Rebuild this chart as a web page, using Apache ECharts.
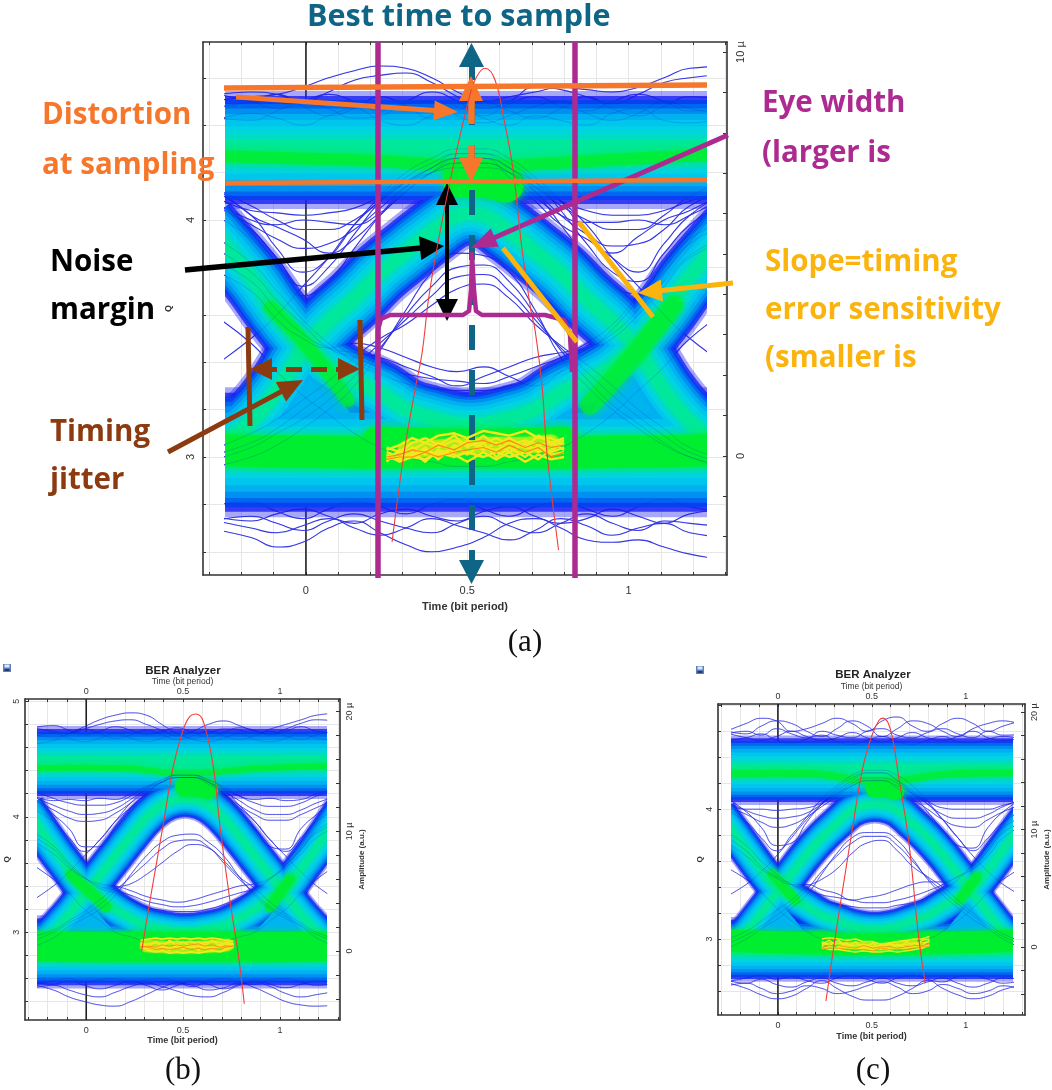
<!DOCTYPE html>
<html><head><meta charset="utf-8">
<script src="https://cdn.jsdelivr.net/npm/echarts@6/dist/echarts.min.js"></script>
<style>html,body{margin:0;padding:0;background:#fff}#c{width:1052px;height:1090px}</style></head>
<body><div id="c"></div>
<script>
// ---------- shared sample instants (bit periods) ----------
const timeGrid=[-0.31,-0.17,-0.09,-0.01,0.07,0.15,0.23,0.31,0.39,0.47,0.55,0.63,0.71,0.79,0.87,0.95,1.03,1.11,1.19,1.33];
const timeTicks=[-0.3,-0.2,-0.1,0,0.1,0.2,0.3,0.4,0.5,0.6,0.7,0.8,0.9,1,1.1,1.2,1.3];
const timeLabels=[0,0.5,1];

// ---------- panel (a) ----------
const aHotTime=[0.25,0.29,0.33,0.37,0.41,0.46,0.50,0.55,0.59,0.63,0.68,0.72,0.76,0.80];
const aQTicks=[2.6,2.8,3,3.2,3.4,3.6,3.8,4,4.2,4.4,4.6];
const aQLabels=[3,4];
const aAmpTicks=[-2,-1,0,1,2,3,4,5,6,7,8,9,10];
const aAmpLabels=[0,10];
const aRailTop=[4.295,4.295,4.295,4.295,4.295,4.295,4.295,4.295,4.295,4.295,4.295,4.295,4.295,4.295,4.295,4.295,4.295,4.295,4.295,4.295];
const aRailBot=[3.02,3.02,3.02,3.02,3.02,3.02,3.02,3.02,3.02,3.02,3.02,3.02,3.02,3.02,3.02,3.02,3.02,3.02,3.02,3.02];
const aSmile=[3.98,3.76,3.61,3.48,3.38,3.32,3.27,3.20,3.165,3.14,3.14,3.165,3.20,3.27,3.32,3.38,3.48,3.61,3.76,3.98];
const aFrown=[3.0,3.15,3.28,3.45,3.57,3.667,3.776,3.865,3.95,4.02,4.02,3.95,3.865,3.776,3.667,3.57,3.45,3.28,3.15,3.0];
const aLobeL=[[-0.2,3.05],[-0.01,3.5],[0.2,3.05]];
const aLobeR=[[0.82,3.05],[1.03,3.5],[1.22,3.05]];
const aUp1=[4.50,4.52,4.53,4.56,4.60,4.63,4.65,4.64,4.60,4.54,4.50,4.52,4.54,4.56,4.55,4.54,4.56,4.60,4.64,4.65];
const aUp2=[4.52,4.54,4.53,4.50,4.54,4.59,4.61,4.62,4.58,4.52,4.47,4.50,4.56,4.55,4.52,4.49,4.53,4.58,4.60,4.62];
const aUp3=[4.54,4.50,4.47,4.50,4.53,4.50,4.46,4.50,4.54,4.50,4.44,4.49,4.52,4.48,4.46,4.50,4.53,4.50,4.46,4.48];
const aUp4=[4.47,4.50,4.53,4.48,4.44,4.47,4.52,4.48,4.43,4.46,4.50,4.46,4.43,4.47,4.52,4.47,4.44,4.48,4.52,4.50];
const aUp5=[4.44,4.42,4.46,4.50,4.47,4.43,4.44,4.49,4.50,4.44,4.41,4.44,4.48,4.50,4.45,4.42,4.45,4.50,4.47,4.44];
const aUp6=[4.40,4.45,4.43,4.40,4.44,4.47,4.42,4.40,4.44,4.47,4.43,4.40,4.44,4.42,4.40,4.45,4.47,4.42,4.41,4.45];
const aDn1=[2.70,2.66,2.62,2.64,2.70,2.73,2.68,2.63,2.60,2.62,2.66,2.72,2.74,2.70,2.65,2.64,2.65,2.62,2.59,2.56];
const aDn2=[2.74,2.70,2.68,2.71,2.74,2.70,2.67,2.70,2.74,2.71,2.68,2.65,2.69,2.74,2.71,2.67,2.70,2.72,2.68,2.66];
const aDn3=[2.72,2.75,2.72,2.69,2.73,2.76,2.73,2.70,2.68,2.72,2.75,2.71,2.68,2.72,2.76,2.72,2.69,2.73,2.72,2.70];
const aDn4=[2.76,2.73,2.76,2.78,2.75,2.72,2.76,2.78,2.75,2.73,2.77,2.79,2.75,2.72,2.74,2.78,2.75,2.72,2.76,2.78];
const aDn5=[2.79,2.81,2.77,2.74,2.78,2.81,2.79,2.76,2.80,2.82,2.78,2.75,2.79,2.81,2.78,2.75,2.79,2.82,2.79,2.76];
const aFr1=[2.95,3.0,3.05,3.12,3.2,3.3,3.45,3.62,3.78,3.86,3.85,3.78,3.62,3.42,3.3,3.2,3.12,3.05,3.0,2.95];
const aFr2=[2.98,3.04,3.1,3.16,3.24,3.34,3.46,3.6,3.72,3.80,3.81,3.74,3.6,3.45,3.33,3.22,3.14,3.06,3.0,2.94];
const aFr3=[3.0,3.06,3.12,3.2,3.28,3.38,3.48,3.58,3.68,3.76,3.77,3.70,3.58,3.46,3.36,3.26,3.17,3.09,3.02,2.96];
const aFr4=[3.02,3.1,3.16,3.24,3.32,3.42,3.5,3.56,3.64,3.71,3.73,3.67,3.56,3.47,3.39,3.3,3.2,3.12,3.04,2.98];
const aSm1=[3.95,3.82,3.7,3.58,3.48,3.4,3.35,3.31,3.29,3.28,3.28,3.3,3.33,3.38,3.44,3.54,3.66,3.78,3.9,4.0];
const aSm2=[3.9,3.78,3.66,3.56,3.46,3.42,3.38,3.35,3.33,3.32,3.31,3.34,3.38,3.42,3.48,3.56,3.68,3.8,3.92,4.02];
const aSm3=[3.85,3.74,3.62,3.52,3.46,3.44,3.42,3.38,3.34,3.3,3.34,3.38,3.42,3.44,3.46,3.52,3.62,3.74,3.85,3.95];
const aSm4=[3.8,3.7,3.58,3.5,3.46,3.48,3.46,3.42,3.38,3.36,3.38,3.34,3.3,3.36,3.44,3.5,3.6,3.72,3.84,3.92];
const aTr1=[4.15,4.06,4.0,3.96,3.96,4.0,4.08,4.16,4.22,4.26,4.26,4.22,4.14,4.06,4.0,3.96,3.96,4.02,4.1,4.18];
const aTr2=[4.08,3.98,3.92,3.88,3.9,3.96,4.05,4.14,4.2,4.24,4.24,4.2,4.12,4.02,3.94,3.89,3.9,3.96,4.06,4.14];
const aTr3=[4.18,4.02,3.97,3.92,3.86,3.92,4.02,4.12,4.2,4.26,4.26,4.18,4.08,3.98,3.92,3.86,3.93,4.0,4.04,4.14];
const aTr4=[4.12,4.04,4.03,4.02,4.03,4.05,4.1,4.16,4.2,4.22,4.22,4.2,4.14,4.08,4.04,4.02,4.02,4.04,4.08,4.14];
const aTr5=[4.1,4.0,3.98,4.0,3.99,3.98,4.03,4.12,4.2,4.24,4.24,4.2,4.1,4.02,3.99,3.99,4.0,3.98,4.02,4.12];
const aV1=[4.04,3.92,3.8,3.68,3.74,3.88,4.02,4.14,4.22,4.26,4.26,4.22,4.12,3.98,3.84,3.72,3.69,3.82,3.94,4.06];
const aV2=[4.1,3.96,3.84,3.72,3.8,3.94,4.08,4.18,4.24,4.28,4.28,4.24,4.16,4.04,3.9,3.78,3.74,3.86,3.98,4.1];
const aV3=[4.14,4.02,3.88,3.78,3.84,3.98,4.1,4.2,4.26,4.3,4.3,4.26,4.18,4.08,3.94,3.84,3.78,3.9,4.02,4.14];
const aX1=[3.62,3.48,3.36,3.26,3.18,3.1,3.04,3.0,2.98,2.96,2.96,2.98,3.0,3.04,3.1,3.18,3.28,3.38,3.5,3.64];
const aX2=[3.36,3.5,3.6,3.72,3.84,3.98,4.08,4.16,4.22,4.28,4.28,4.22,4.16,4.08,3.98,3.84,3.72,3.6,3.5,3.36];
const aGreenTop=[[-0.3,4.27],[0.2,4.25],[0.44,4.23],[0.62,4.23],[0.9,4.25],[1.3,4.28]];
const aGreenBot=[[-0.3,3.03],[0.1,3.02],[0.5,3.02],[0.9,3.02],[1.3,3.03]];
const aGreenMid=[[0.22,3.07],[0.5,3.06],[0.8,3.07]];
const aGreenBlob=[[0.48,4.17],[0.55,4.17],[0.62,4.15]];
const aGreenFall=[[-0.11,3.63],[-0.01,3.49],[0.13,3.24]];
const aGreenRise=[[0.88,3.22],[1.0,3.4],[1.14,3.64]];
const aYellowBed=[[0.31,3.03],[0.42,3.04],[0.55,3.05],[0.68,3.05],[0.76,3.06]];
const aHot1=[3.03,3.05,3.08,3.06,3.09,3.10,3.08,3.11,3.10,3.09,3.11,3.08,3.08,3.05];
const aHot2=[3.00,3.02,3.03,3.06,3.04,3.07,3.05,3.06,3.08,3.05,3.07,3.05,3.06,3.03];
const aHot3=[2.99,3.00,3.01,3.03,3.01,3.04,3.06,3.04,3.03,3.06,3.04,3.03,3.02,3.04];
const aHot4=[3.01,2.98,3.0,2.99,3.02,3.00,3.02,3.00,3.02,3.0,3.02,2.99,3.03,3.06];
const aHot5=[3.02,3.0,3.04,3.01,3.06,3.02,3.07,3.03,3.06,3.02,3.06,3.02,3.05,3.07];
const aHot6=[2.98,3.03,3.0,3.04,2.99,3.05,3.01,3.06,3.0,3.04,3.0,3.05,3.01,3.02];
const aHot7=[3.04,3.02,3.06,3.08,3.05,3.09,3.04,3.09,3.05,3.08,3.04,3.09,3.06,3.08];
const aHot8=[3.0,2.99,3.02,2.98,3.03,3.01,2.98,3.02,2.99,3.02,2.98,3.01,2.99,3.0];
const aOrange1=[3.0,3.01,3.03,3.02,3.05,3.03,3.06,3.07,3.05,3.07,3.04,3.06,3.04,3.05];
const aOrange2=[2.99,3.0,3.0,3.02,3.0,3.02,3.03,3.04,3.02,3.05,3.02,3.04,3.0,3.02];
const aRedT=[0.267,0.304,0.338,0.36,0.381,0.415,0.454,0.504,0.527,0.555,0.586,0.614,0.642,0.67,0.697,0.71,0.732,0.747,0.783];
const aRedA=[-2.13,0.07,1.63,2.55,3.94,5.52,7.08,8.81,9.36,9.6,9.31,8.32,7.08,5.1,3.61,3.12,1.71,0.07,-2.33];

// ---------- panel (b) ----------
const bHotTime=[0.28,0.32,0.36,0.39,0.43,0.47,0.50,0.54,0.58,0.61,0.65,0.69,0.72,0.76];
const bQTicks=[2.4,2.6,2.8,3,3.2,3.4,3.6,3.8,4,4.2,4.4,4.6,4.8,5];
const bQLabels=[3,4,5];
const bAmpTicks=[-4,-2,0,2,4,6,8,10,12,14,16,18,20];
const bAmpLabels=[0,10,20];
const bRailTop=[4.47,4.47,4.47,4.47,4.47,4.47,4.47,4.47,4.47,4.47,4.47,4.47,4.47,4.47,4.47,4.47,4.47,4.47,4.47,4.47];
const bRailBot=[2.83,2.83,2.83,2.83,2.83,2.83,2.83,2.83,2.83,2.83,2.83,2.83,2.83,2.83,2.83,2.83,2.83,2.83,2.83,2.83];
const bSmile=[4.08,3.73,3.55,3.37,3.30,3.20,3.12,3.06,3.03,3.01,3.01,3.03,3.06,3.12,3.20,3.30,3.37,3.55,3.73,4.08];
const bFrown=[2.72,3.0,3.15,3.32,3.49,3.66,3.83,3.99,4.10,4.15,4.15,4.10,3.99,3.83,3.66,3.49,3.32,3.15,3.0,2.72];
const bLobeL=[[-0.2,2.9],[-0.01,3.3],[0.2,2.9]];
const bLobeR=[[0.82,2.9],[1.03,3.3],[1.22,2.9]];
const bUp1=[4.62,4.66,4.72,4.78,4.84,4.88,4.90,4.88,4.80,4.72,4.68,4.72,4.76,4.75,4.72,4.76,4.80,4.84,4.88,4.90];
const bUp2=[4.78,4.74,4.72,4.76,4.80,4.83,4.84,4.80,4.75,4.70,4.74,4.80,4.83,4.79,4.74,4.72,4.76,4.81,4.84,4.82];
const bUp3=[4.76,4.79,4.75,4.71,4.74,4.78,4.75,4.71,4.74,4.77,4.73,4.69,4.73,4.77,4.75,4.71,4.74,4.78,4.74,4.72];
const bUp4=[4.72,4.69,4.72,4.76,4.72,4.68,4.71,4.75,4.71,4.67,4.70,4.74,4.70,4.67,4.70,4.74,4.70,4.67,4.71,4.76];
const bUp5=[4.68,4.72,4.68,4.65,4.68,4.72,4.68,4.65,4.68,4.71,4.67,4.65,4.68,4.72,4.67,4.65,4.68,4.72,4.68,4.66];
const bDn1=[2.56,2.50,2.44,2.40,2.37,2.36,2.40,2.46,2.52,2.56,2.54,2.50,2.52,2.56,2.52,2.46,2.40,2.37,2.36,2.38];
const bDn2=[2.50,2.54,2.50,2.46,2.44,2.48,2.53,2.56,2.53,2.49,2.45,2.44,2.48,2.54,2.57,2.53,2.47,2.44,2.46,2.50];
const bDn3=[2.58,2.55,2.58,2.54,2.51,2.54,2.58,2.54,2.50,2.54,2.58,2.55,2.51,2.55,2.59,2.55,2.52,2.55,2.58,2.55];
const bDn4=[2.54,2.58,2.60,2.57,2.59,2.60,2.56,2.59,2.60,2.57,2.53,2.58,2.60,2.57,2.55,2.59,2.60,2.57,2.54,2.58];
const bFr1=[2.85,2.95,3.05,3.12,3.2,3.32,3.5,3.66,3.78,3.84,3.85,3.78,3.66,3.48,3.32,3.2,3.12,3.05,2.95,2.85];
const bFr2=[2.9,3.0,3.08,3.15,3.24,3.36,3.48,3.6,3.72,3.79,3.80,3.74,3.6,3.46,3.34,3.22,3.14,3.06,2.98,2.9];
const bFr3=[2.95,3.02,3.1,3.18,3.28,3.38,3.42,3.5,3.6,3.7,3.76,3.73,3.62,3.48,3.38,3.26,3.16,3.08,3.0,2.92];
const bSm1=[3.9,3.75,3.6,3.48,3.38,3.34,3.28,3.22,3.19,3.18,3.18,3.2,3.24,3.3,3.36,3.46,3.58,3.72,3.88,4.0];
const bSm2=[3.86,3.72,3.58,3.47,3.4,3.36,3.32,3.27,3.24,3.22,3.23,3.26,3.3,3.34,3.38,3.47,3.58,3.72,3.86,3.96];
const bSm3=[3.82,3.68,3.56,3.47,3.42,3.4,3.36,3.31,3.28,3.26,3.28,3.32,3.36,3.4,3.42,3.47,3.56,3.68,3.82,3.94];
const bTr1=[4.25,4.16,4.12,4.1,4.1,4.12,4.18,4.26,4.32,4.36,4.36,4.32,4.26,4.18,4.12,4.09,4.09,4.12,4.18,4.26];
const bTr2=[4.2,4.1,4.05,4.02,4.03,4.07,4.15,4.24,4.3,4.34,4.34,4.3,4.22,4.14,4.06,4.02,4.02,4.06,4.12,4.2];
const bTr3=[4.18,4.06,3.99,3.96,3.97,4.03,4.12,4.22,4.3,4.34,4.34,4.28,4.2,4.1,4.02,3.97,3.97,4.02,4.08,4.18];
const bTr4=[4.22,4.14,4.15,4.14,4.16,4.15,4.2,4.26,4.3,4.34,4.34,4.3,4.24,4.18,4.15,4.16,4.14,4.15,4.2,4.26];
const bV1=[4.22,4.02,3.9,3.74,3.74,3.92,4.08,4.2,4.3,4.34,4.34,4.3,4.2,4.05,3.9,3.74,3.72,3.9,4.02,4.2];
const bV2=[4.1,3.96,3.82,3.7,3.8,3.96,4.12,4.24,4.32,4.36,4.36,4.32,4.24,4.1,3.96,3.8,3.7,3.82,3.96,4.1];
const bX1=[3.62,3.46,3.34,3.2,3.1,3.0,2.96,2.92,2.9,2.88,2.88,2.9,2.92,2.96,3.0,3.1,3.2,3.34,3.46,3.62];
const bX2=[3.24,3.4,3.52,3.66,3.8,3.96,4.08,4.2,4.3,4.36,4.36,4.3,4.2,4.08,3.96,3.8,3.66,3.52,3.4,3.24];
const bGreenTop=[[-0.3,4.42],[0.2,4.42],[0.44,4.38],[0.62,4.38],[0.9,4.42],[1.3,4.44]];
const bGreenBot=[[-0.3,2.88],[0.1,2.87],[0.5,2.87],[0.9,2.87],[1.3,2.88]];
const bGreenMid=[[0.25,2.92],[0.5,2.9],[0.78,2.92]];
const bGreenBlob=[[0.51,4.26],[0.57,4.26],[0.63,4.24]];
const bGreenFall=[[-0.08,3.5],[0.0,3.38],[0.1,3.22]];
const bGreenRise=[[0.95,3.22],[1.0,3.34],[1.05,3.46]];
const bYellowBed=[[0.31,2.88],[0.42,2.87],[0.55,2.87],[0.68,2.88],[0.73,2.89]];
const bHot1=[2.93,2.94,2.95,2.94,2.95,2.94,2.95,2.94,2.95,2.94,2.95,2.94,2.93,2.92];
const bHot2=[2.89,2.90,2.91,2.90,2.91,2.92,2.91,2.92,2.90,2.91,2.92,2.91,2.90,2.88];
const bHot3=[2.87,2.86,2.87,2.88,2.86,2.87,2.88,2.87,2.88,2.86,2.87,2.88,2.86,2.87];
const bHot4=[2.88,2.84,2.83,2.84,2.82,2.83,2.82,2.83,2.82,2.83,2.84,2.83,2.85,2.88];
const bHot5=[2.91,2.88,2.92,2.87,2.93,2.88,2.92,2.87,2.92,2.88,2.93,2.88,2.91,2.9];
const bHot6=[2.9,2.86,2.85,2.89,2.84,2.9,2.85,2.89,2.84,2.89,2.85,2.89,2.87,2.9];
const bOrange1=[2.87,2.88,2.87,2.89,2.88,2.89,2.88,2.89,2.9,2.88,2.89,2.87,2.88,2.88];
const bOrange2=[2.88,2.87,2.85,2.86,2.85,2.86,2.87,2.85,2.86,2.85,2.86,2.85,2.87,2.88];
const bRedT=[0.286,0.329,0.398,0.449,0.501,0.535,0.566,0.604,0.656,0.69,0.742,0.785,0.816];
const bRedA=[0,4.2,10.6,15.4,18.5,19.6,19.8,19.2,15.4,10.5,4.2,-0.3,-4.4];

// ---------- panel (c) ----------
const cHotTime=[0.23,0.27,0.32,0.36,0.41,0.45,0.50,0.54,0.59,0.63,0.68,0.72,0.76,0.80];
const cQTicks=[2.6,2.8,3,3.2,3.4,3.6,3.8,4,4.2,4.4,4.6,4.8];
const cQLabels=[3,4];
const cAmpTicks=[-4,-2,0,2,4,6,8,10,12,14,16,18,20];
const cAmpLabels=[0,10,20];
const cRailTop=[4.30,4.30,4.30,4.30,4.30,4.30,4.30,4.30,4.30,4.30,4.30,4.30,4.30,4.30,4.30,4.30,4.30,4.30,4.30,4.30];
const cRailBot=[2.92,2.92,2.92,2.92,2.92,2.92,2.92,2.92,2.92,2.92,2.92,2.92,2.92,2.92,2.92,2.92,2.92,2.92,2.92,2.92];
const cSmile=[3.97,3.69,3.53,3.39,3.32,3.25,3.18,3.14,3.10,3.08,3.08,3.10,3.14,3.18,3.25,3.32,3.39,3.53,3.69,3.97];
const cFrown=[2.80,3.05,3.2,3.35,3.5,3.65,3.78,3.89,3.99,4.03,4.03,3.99,3.89,3.78,3.65,3.5,3.35,3.2,3.05,2.80];
const cLobeL=[[-0.2,2.95],[-0.01,3.32],[0.2,2.95]];
const cLobeR=[[0.82,2.95],[1.03,3.32],[1.22,2.95]];
const cUp1=[4.58,4.66,4.70,4.68,4.60,4.62,4.66,4.70,4.66,4.60,4.68,4.71,4.64,4.60,4.66,4.70,4.66,4.60,4.64,4.70];
const cUp2=[4.62,4.58,4.64,4.68,4.66,4.60,4.56,4.62,4.68,4.64,4.56,4.62,4.68,4.66,4.60,4.56,4.62,4.66,4.68,4.62];
const cUp3=[4.56,4.60,4.57,4.62,4.58,4.55,4.60,4.57,4.55,4.60,4.62,4.57,4.55,4.59,4.62,4.58,4.55,4.60,4.57,4.58];
const cUp4=[4.60,4.55,4.53,4.56,4.60,4.56,4.53,4.55,4.59,4.55,4.52,4.55,4.59,4.55,4.53,4.56,4.60,4.55,4.53,4.56];
const cUp5=[4.52,4.55,4.58,4.53,4.51,4.54,4.57,4.52,4.50,4.53,4.56,4.52,4.50,4.53,4.56,4.52,4.51,4.54,4.56,4.52];
const cDn1=[2.68,2.62,2.57,2.54,2.56,2.62,2.68,2.62,2.56,2.53,2.53,2.56,2.62,2.68,2.62,2.57,2.54,2.56,2.61,2.66];
const cDn2=[2.62,2.66,2.62,2.58,2.60,2.64,2.62,2.58,2.60,2.64,2.67,2.63,2.58,2.60,2.65,2.62,2.58,2.60,2.64,2.58];
const cDn3=[2.70,2.66,2.69,2.65,2.63,2.67,2.70,2.66,2.64,2.67,2.70,2.66,2.64,2.67,2.70,2.66,2.63,2.66,2.70,2.68];
const cDn4=[2.66,2.70,2.72,2.69,2.71,2.68,2.66,2.70,2.72,2.69,2.66,2.70,2.72,2.69,2.67,2.71,2.72,2.69,2.66,2.70];
const cFr1=[2.9,3.0,3.08,3.15,3.24,3.34,3.5,3.66,3.78,3.82,3.82,3.76,3.62,3.46,3.34,3.24,3.15,3.08,3.0,2.9];
const cFr2=[2.94,3.03,3.1,3.18,3.27,3.38,3.52,3.64,3.74,3.79,3.79,3.72,3.6,3.47,3.37,3.27,3.18,3.1,3.02,2.94];
const cFr3=[2.98,3.06,3.14,3.22,3.3,3.4,3.46,3.54,3.66,3.74,3.76,3.68,3.56,3.48,3.4,3.3,3.2,3.12,3.04,2.96];
const cSm1=[3.86,3.72,3.6,3.5,3.42,3.36,3.3,3.27,3.25,3.24,3.24,3.26,3.28,3.32,3.38,3.46,3.58,3.72,3.86,3.96];
const cSm2=[3.82,3.68,3.56,3.48,3.42,3.38,3.34,3.32,3.3,3.28,3.28,3.3,3.33,3.37,3.42,3.48,3.56,3.68,3.82,3.92];
const cSm3=[3.78,3.64,3.54,3.47,3.42,3.42,3.38,3.35,3.3,3.32,3.34,3.38,3.42,3.44,3.44,3.48,3.54,3.64,3.78,3.9];
const cTr1=[4.08,3.99,3.95,3.93,3.94,3.97,4.04,4.12,4.2,4.24,4.24,4.2,4.12,4.04,3.96,3.93,3.93,3.96,4.02,4.1];
const cTr2=[4.04,3.96,3.9,3.86,3.88,3.94,4.02,4.1,4.18,4.22,4.22,4.16,4.08,4.0,3.92,3.87,3.86,3.92,3.98,4.06];
const cTr3=[4.06,4.0,4.0,3.99,4.0,4.01,4.05,4.12,4.18,4.22,4.22,4.18,4.12,4.06,4.01,4.0,4.0,4.0,4.03,4.08];
const cV1=[4.12,3.98,3.86,3.72,3.74,3.9,4.04,4.16,4.24,4.28,4.28,4.22,4.12,3.98,3.84,3.72,3.7,3.86,3.98,4.12];
const cV2=[4.02,3.9,3.78,3.68,3.8,3.94,4.08,4.18,4.26,4.3,4.3,4.26,4.18,4.06,3.92,3.78,3.68,3.78,3.9,4.02];
const cX1=[3.58,3.46,3.36,3.24,3.14,3.06,3.0,2.98,2.96,2.94,2.94,2.96,2.98,3.0,3.06,3.14,3.24,3.36,3.46,3.58];
const cX2=[3.3,3.42,3.52,3.64,3.78,3.92,4.04,4.14,4.22,4.28,4.28,4.22,4.14,4.04,3.92,3.78,3.64,3.52,3.42,3.3];
const cGreenTop=[[-0.3,4.27],[0.2,4.27],[0.44,4.22],[0.62,4.22],[0.9,4.27],[1.3,4.28]];
const cGreenBot=[[-0.3,2.99],[0.1,2.97],[0.5,2.96],[0.9,2.97],[1.3,2.99]];
const cGreenMid=[[0.2,3.0],[0.5,2.98],[0.82,3.0]];
const cGreenBlob=[[0.51,4.16],[0.56,4.16],[0.62,4.14]];
const cGreenFall=[[-0.03,3.5],[0.03,3.4],[0.09,3.3]];
const cGreenRise=[[0.96,3.3],[1.0,3.38],[1.05,3.48]];
const cYellowBed=[[0.33,2.95],[0.42,2.95],[0.55,2.94],[0.66,2.96],[0.72,2.97]];
const cHot1=[3.0,3.01,3.0,2.99,3.0,2.98,2.98,2.96,2.97,2.98,2.99,3.0,3.0,3.02];
const cHot2=[2.95,2.97,2.97,2.96,2.95,2.96,2.94,2.95,2.96,2.95,2.96,2.97,2.97,2.98];
const cHot3=[2.93,2.94,2.93,2.94,2.92,2.93,2.92,2.93,2.93,2.92,2.93,2.94,2.94,2.96];
const cHot4=[2.94,2.92,2.92,2.91,2.90,2.91,2.90,2.90,2.91,2.9,2.91,2.92,2.93,2.95];
const cHot5=[2.98,2.95,2.99,2.94,2.98,2.93,2.97,2.92,2.97,2.93,2.98,2.94,2.99,3.0];
const cHot6=[2.96,2.99,2.94,2.97,2.92,2.95,2.91,2.94,2.92,2.96,2.93,2.97,2.95,2.99];
const cOrange1=[2.93,2.95,2.95,2.94,2.93,2.95,2.93,2.94,2.94,2.93,2.94,2.95,2.95,2.96];
const cOrange2=[2.92,2.93,2.93,2.92,2.92,2.92,2.91,2.93,2.92,2.92,2.92,2.93,2.94,2.94];
const cRedT=[0.256,0.291,0.335,0.397,0.451,0.5,0.538,0.559,0.6,0.644,0.696,0.75,0.785];
const cRedA=[-4.6,-0.7,3.9,10.1,15.2,18,19.3,19.5,18.5,14.4,9.1,0.8,-3.1];

// ---------- annotation geometry, page units of the overlay axes ----------
const orangeTopLine=[[224,88],[707,85]];
const orangeBotLine=[[226,183],[707,180]];
const orangeArrow=[[236,97],[458,112]];
const orangeUp=[[471,124],[471,76]];
const orangeDown=[[471,145],[471,182]];
const purpleLeft=[[378,42],[378,578]];
const purpleRight=[[575,42],[575,578]];
const purpleArrow=[[728,135],[471,248]];
const purpleBracket=[[377,380],[378,330],[381,319],[390,315],[463,315],[469,311],[471,290],[472,254],[474,290],[476,311],[482,315],[545,315],[564,320],[570,335],[572,372]];
const tealAxis=[[471.5,43],[471.5,584]];
const blackUpDown=[[447,183],[447,321]];
const blackArrow=[[185,270],[444,246]];
const goldSlopeA=[[503,248],[577,342]];
const goldSlopeB=[[579,222],[653,317]];
const goldArrow=[[733,283],[638,293]];
const brownLeft=[[248,327],[250,426]];
const brownRight=[[360,320],[362,420]];
const brownSpan=[[250,369],[360,369]];
const brownArrow=[[168,452],[303,380]];

// ---------- builders ----------
const levels=[[1.18,'#2626ee',0.4],[1.08,'#1a22f2',0.8],[1,'#0a40f2',1],[0.92,'#0068f0',1],[0.83,'#0090f0',1],[0.72,'#00b0f0',1],[0.6,'#00c6ee',1],[0.47,'#00d4e0',1],[0.34,'#00dcc4',1],[0.22,'#00e89c',1]];
const zip=(t,q)=>t.map((v,i)=>[v,q[i]]);
const panels=[
 {key:'a',left:203,top:42,w:524,h:533,xMin:-0.319,xMax:1.305,qMin:2.502,qMax:4.751,ampMin:-2.95,ampMax:10.25,
  dataL:225.4,dataR:706,qTicks:aQTicks,qLabels:aQLabels,ampTicks:aAmpTicks,ampLabels:aAmpLabels,redT:aRedT,redA:aRedA,fs:11,title:false,
  bands:[[zip(timeGrid,aRailTop),100],[zip(timeGrid,aRailBot),110],[zip(timeGrid,aFrown),60],[zip(timeGrid,aSmile),60]],lobes:[aLobeL,aLobeR],
  traces:[aUp1,aUp2,aUp3,aUp4,aUp5,aUp6,aDn1,aDn2,aDn3,aDn4,aDn5,aFr1,aFr2,aFr3,aFr4,aSm1,aSm2,aSm3,aSm4,aTr1,aTr2,aTr3,aTr4,aTr5,aV1,aV2,aV3,aX1,aX2],
  greens:[[aGreenTop,12,0.75],[aGreenBot,32,1],[aGreenMid,28,1],[aGreenBlob,36,1],[aGreenFall,14,0.7],[aGreenRise,20,0.7]],bed:[aYellowBed,16],
  hotTime:aHotTime,hots:[aHot1,aHot2,aHot3,aHot4,aHot5,aHot6,aHot7,aHot8],oranges:[aOrange1,aOrange2],hotW:2.4},
 {key:'b',left:25,top:699,w:315,h:321,xMin:-0.316,xMax:1.31,qMin:2.24,qMax:5.02,ampMin:-5.76,ampMax:21.05,
  dataL:37.8,dataR:326,qTicks:bQTicks,qLabels:bQLabels,ampTicks:bAmpTicks,ampLabels:bAmpLabels,redT:bRedT,redA:bRedA,fs:9,title:true,
  bands:[[zip(timeGrid,bRailTop),62],[zip(timeGrid,bRailBot),62],[zip(timeGrid,bFrown),34],[zip(timeGrid,bSmile),34]],lobes:[bLobeL,bLobeR],
  traces:[bUp1,bUp2,bUp3,bUp4,bUp5,bDn1,bDn2,bDn3,bDn4,bFr1,bFr2,bFr3,bSm1,bSm2,bSm3,bTr1,bTr2,bTr3,bTr4,bV1,bV2,bX1,bX2],
  greens:[[bGreenTop,6,0.75],[bGreenBot,30,1],[bGreenMid,20,1],[bGreenBlob,20,1],[bGreenFall,11,0.8],[bGreenRise,11,0.8]],bed:[bYellowBed,12],
  hotTime:bHotTime,hots:[bHot1,bHot2,bHot3,bHot4,bHot5,bHot6],oranges:[bOrange1,bOrange2],hotW:1.8},
 {key:'c',left:718,top:704,w:309,h:311,xMin:-0.319,xMax:1.316,qMin:2.415,qMax:4.81,ampMin:-5.79,ampMax:20.7,
  dataL:731.7,dataR:1012.7,qTicks:cQTicks,qLabels:cQLabels,ampTicks:cAmpTicks,ampLabels:cAmpLabels,redT:cRedT,redA:cRedA,fs:9,title:true,
  bands:[[zip(timeGrid,cRailTop),59],[zip(timeGrid,cRailBot),55],[zip(timeGrid,cFrown),32],[zip(timeGrid,cSmile),32]],lobes:[cLobeL,cLobeR],
  traces:[cUp1,cUp2,cUp3,cUp4,cUp5,cDn1,cDn2,cDn3,cDn4,cFr1,cFr2,cFr3,cSm1,cSm2,cSm3,cTr1,cTr2,cTr3,cV1,cV2,cX1,cX2],
  greens:[[cGreenTop,7,0.75],[cGreenBot,22,1],[cGreenMid,14,1],[cGreenBlob,18,1],[cGreenFall,10,0.8],[cGreenRise,10,0.8]],bed:[cYellowBed,7],
  hotTime:cHotTime,hots:[cHot1,cHot2,cHot3,cHot4,cHot5,cHot6],oranges:[cOrange1,cOrange2],hotW:1.6}
];
const grid=[],xAxis=[],yAxis=[],series=[];
const lineS=(xi,yi,data,color,width,z,extra)=>Object.assign({type:'line',xAxisIndex:xi,yAxisIndex:yi,data,symbol:'none',silent:true,animation:false,z,
  lineStyle:{color,width,cap:'butt',join:'round'}},extra||{});
const polyS=(xi,yi,pts,color,width,z,o)=>{o=o||{};return {type:'custom',coordinateSystem:'cartesian2d',xAxisIndex:xi,yAxisIndex:yi,clip:true,silent:true,animation:false,z,
  data:pts,encode:{x:0,y:1},
  renderItem:(params,api)=>{ if(params.dataIndex!==0) return {type:'group'};
    const points=pts.map(p=>api.coord(p));
    if(o.fill) return {type:'polygon',shape:{points},style:{fill:color,stroke:'none'}};
    return {type:'polyline',shape:{points,smooth:pts.length>2?0.35:0},
      style:{fill:'none',stroke:color,lineWidth:width,opacity:o.opacity==null?1:o.opacity,lineCap:o.cap||'butt',lineJoin:'round',
        shadowBlur:o.blur||0,shadowColor:o.blur?color:'transparent'}};}};};
const axisFont='"Liberation Sans",Arial,sans-serif';
panels.forEach(p=>{
  const g=grid.length; grid.push({left:p.left,top:p.top,width:p.w,height:p.h});
  const big=p.fs==11;
  const al={show:true,onZero:false,lineStyle:{color:'#333',width:1.6}};
  const xb=xAxis.length;
  const tickS={show:true,inside:true,length:3,customValues:timeTicks,lineStyle:{color:'#333'}};
  xAxis.push({type:'value',gridIndex:g,position:'bottom',min:p.xMin,max:p.xMax,axisLine:al,axisTick:tickS,
    splitLine:{show:true,lineStyle:{color:'#e6e6e6'}},
    axisLabel:{customValues:timeLabels,color:'#333',fontSize:p.fs,fontFamily:axisFont,margin:big?10:6},
    name:'Time (bit period)',nameLocation:'middle',nameGap:big?26:p.key=='b'?15:17,nameTextStyle:{fontWeight:'bold',fontSize:big?11:9,color:'#333',fontFamily:axisFont}});
  xAxis.push(Object.assign({type:'value',gridIndex:g,position:'top',min:p.xMin,max:p.xMax,axisLine:al,axisTick:tickS,splitLine:{show:false}},
    p.title?{axisLabel:{customValues:timeLabels,color:'#333',fontSize:p.fs,fontFamily:axisFont,margin:3},
      name:'Time (bit period)',nameLocation:'middle',nameGap:12,nameTextStyle:{fontSize:8.5,color:'#333',fontFamily:axisFont}}:{axisLabel:{show:false}}));
  const yl=yAxis.length;
  yAxis.push({type:'value',gridIndex:g,position:'left',min:p.qMin,max:p.qMax,axisLine:al,
    axisTick:{show:true,inside:true,length:3,customValues:p.qTicks,lineStyle:{color:'#333'}},
    splitLine:{show:true,lineStyle:{color:'#e6e6e6'}},
    axisLabel:{customValues:p.qLabels,rotate:90,color:'#333',fontSize:p.fs,fontFamily:axisFont,margin:big?7:4},
    name:'Q',nameLocation:'middle',nameRotate:90,nameGap:big?30:14,nameTextStyle:{fontWeight:'bold',fontSize:big?9:8,color:'#333',fontFamily:axisFont}});
  yAxis.push(Object.assign({type:'value',gridIndex:g,position:'right',min:p.ampMin,max:p.ampMax,axisLine:al,
    axisTick:{show:true,inside:true,length:4,customValues:p.ampTicks,lineStyle:{color:'#333'}},splitLine:{show:false},
    axisLabel:{customValues:p.ampLabels,rotate:90,color:'#333',fontSize:p.fs,fontFamily:axisFont,margin:big?8:5,formatter:v=>v===0?'0':v+' µ'}},
    p.title?{name:'Amplitude (a.u.)',nameLocation:'middle',nameRotate:90,nameGap:18,nameTextStyle:{fontWeight:'bold',fontSize:8,color:'#333',fontFamily:axisFont}}:{}));
  series.push(lineS(xb,yl,[[0,p.qMin],[0,p.qMax]],'#222',1.6,1));
  p.xb=xb;p.yl=yl;
});
panels.forEach(p=>{
  const g=grid.length; grid.push({left:p.dataL,top:p.top,width:p.dataR-p.dataL,height:p.h});
  const xi=xAxis.length,yi=yAxis.length,big=p.fs==11;
  xAxis.push({type:'value',gridIndex:g,show:false,min:(p.dataL-p.left)/p.w*(p.xMax-p.xMin)+p.xMin,max:(p.dataR-p.left)/p.w*(p.xMax-p.xMin)+p.xMin,splitLine:{show:false}});
  yAxis.push({type:'value',gridIndex:g,show:false,min:p.qMin,max:p.qMax,splitLine:{show:false}});
  p.traces.forEach(q=>series.push(lineS(xi,yi,zip(timeGrid,q),'#4040ea',big?1.1:0.8,2,{smooth:0.5})));
  levels.forEach(([f,color,op],k)=>p.bands.forEach(([pts,w])=>series.push(polyS(xi,yi,pts,color,w*f,3+k*0.01,{opacity:op}))));
  p.lobes.forEach(pts=>series.push(polyS(xi,yi,pts,'#00b4f0',0,3.045,{fill:true})));
  p.greens.forEach(([pts,w,op])=>series.push(polyS(xi,yi,pts,'#00ee30',w,4,{cap:'round',blur:big?10:6,opacity:op})));
  p.traces.forEach(q=>series.push(lineS(xi,yi,zip(timeGrid,q),'#0018d0',0.9,4.5,{smooth:0.5,lineStyle:{color:'#0018d0',width:0.9,opacity:0.2}})));
  series.push(polyS(xi,yi,p.bed[0],'#a8ee14',p.bed[1],4.8,{cap:'round',blur:big?3:2}));
  p.hots.forEach(q=>series.push(lineS(xi,yi,zip(p.hotTime,q),'#f2e81e',p.hotW,5)));
  p.oranges.forEach(q=>series.push(lineS(xi,yi,zip(p.hotTime,q),'#ff8a10',p.hotW*0.5,5.1)));
  series.push(lineS(p.xb,p.yl+1,zip(p.redT,p.redA),'#f23c3c',1.1,6,{smooth:0.4}));
});
const og=grid.length; grid.push({left:0,top:0,width:1052,height:1090});
const ox=xAxis.length,oy=yAxis.length;
xAxis.push({type:'value',gridIndex:og,show:false,min:0,max:1052,splitLine:{show:false}});
yAxis.push({type:'value',gridIndex:og,show:false,min:0,max:1090,inverse:true,splitLine:{show:false}});
const stroke=(pts,color,width)=>series.push(lineS(ox,oy,pts,color,width,8,{clip:false}));
const arrow=(pts,color,width,head,opt)=>{
  opt=opt||{};
  const [a,b]=pts,len=Math.hypot(b[0]-a[0],b[1]-a[1]),ux=(b[0]-a[0])/len,uy=(b[1]-a[1])/len;
  const back=head[1]/2;
  const to=[b[0]-ux*back,b[1]-uy*back];
  const from=opt.both?[a[0]+ux*back,a[1]+uy*back]:a;
  const ls={color,width,type:opt.dash||'solid',opacity:1,cap:'butt'};
  series.push({type:'line',xAxisIndex:ox,yAxisIndex:oy,data:[],silent:true,animation:false,z:opt.z||9,
    markLine:{silent:true,animation:false,label:{show:false},emphasis:{disabled:true},
      data:[[{coord:from,symbol:opt.both?'triangle':'none',symbolSize:head,lineStyle:ls},
             {coord:to,symbol:'triangle',symbolSize:head,lineStyle:ls}]]}});
};
const OR='#f6772b',PU='#ad2b90',TE='#0e6585',GO='#fbb30d',BR='#8c3a10',BK='#000';
stroke(purpleLeft,PU,5.5);stroke(purpleRight,PU,5.5);
stroke(purpleBracket,PU,4.5);
arrow(tealAxis,TE,6,[25,24],{both:true,dash:[25,20],z:8.5});
stroke(orangeTopLine,OR,5.5);stroke(orangeBotLine,OR,4.5);
arrow(orangeArrow,OR,5,[20,24]);
arrow(orangeUp,OR,6.5,[24,25]);
arrow(orangeDown,OR,6.5,[24,24]);
arrow(purpleArrow,PU,5,[20,26]);
arrow(blackUpDown,BK,4,[22,22],{both:true});
arrow(blackArrow,BK,5.5,[24,24]);
stroke(goldSlopeA,GO,5);stroke(goldSlopeB,GO,5);
arrow(goldArrow,GO,5,[22,24]);
stroke(brownLeft,BR,5);stroke(brownRight,BR,5);
arrow(brownSpan,BR,5,[22,22],{both:true,dash:[16,9]});
arrow(brownArrow,BR,5,[22,25]);

const ann=(text,x,y,fill,font)=>({type:'text',x,y,z:20,silent:true,style:{text,fill,font,textAlign:'left',textVerticalAlign:'middle'}});
const AF='700 29.5px "Open Sans",Lato,sans-serif';
const cap=(text,x,y)=>({type:'text',x,y,z:20,silent:true,style:{text,fill:'#111',font:'31px "Liberation Serif",serif',textAlign:'center',textVerticalAlign:'middle'}});
const ttl=(x,y)=>({type:'text',x,y,z:20,silent:true,style:{text:'BER Analyzer',fill:'#222',font:'bold 11.5px "Liberation Sans",sans-serif',textAlign:'center',textVerticalAlign:'middle'}});
const icon=(x,y)=>({type:'group',x,y,children:[{type:'rect',shape:{x:0,y:0,width:8,height:8},style:{fill:'#5a7fc0'}},{type:'rect',shape:{x:1.5,y:0.5,width:5,height:3},style:{fill:'#dfe8f5'}},{type:'rect',shape:{x:1.5,y:5,width:5,height:2},style:{fill:'#223a70'}}]});
const graphic=[
 ann('Best time to sample',307,17,TE,'700 30.5px "Open Sans",Lato,sans-serif'),
 ann('Distortion',42,116,OR,AF),ann('at sampling',42,166,OR,AF),
 ann('Eye width',762,104,PU,AF),ann('(larger is',762,154,PU,AF),
 ann('Noise',50,263,'#000',AF),ann('margin',50,311,'#000',AF),
 ann('Slope=timing',765,263,GO,AF),ann('error sensitivity',765,311,GO,AF),ann('(smaller is',765,359,GO,AF),
 ann('Timing',50,433,BR,AF),ann('jitter',50,481,BR,AF),
 cap('(a)',525,643),cap('(b)',183,1071),cap('(c)',873,1071),
 ttl(183,671),ttl(873,675),icon(3,664),icon(696,666)
];
const chart=echarts.init(document.getElementById('c'),null,{renderer:'canvas'});
chart.setOption({animation:false,backgroundColor:'#fff',grid,xAxis,yAxis,series,graphic,tooltip:{show:false},legend:{show:false}});
</script></body></html>
